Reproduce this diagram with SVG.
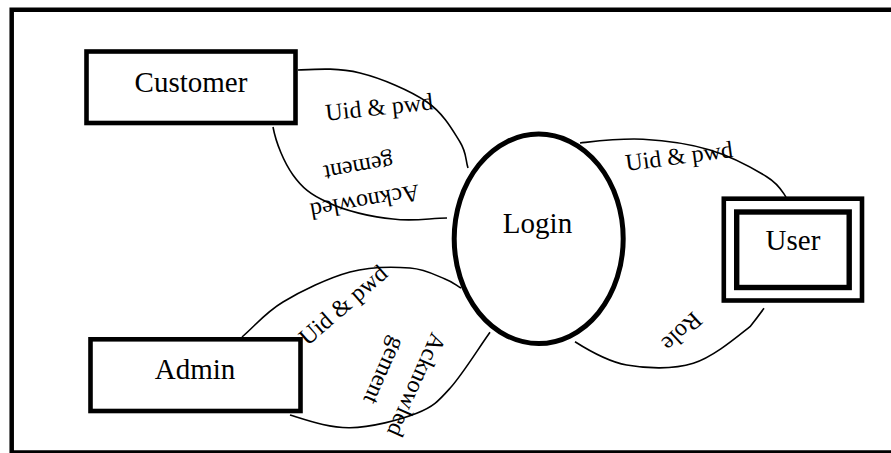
<svg xmlns="http://www.w3.org/2000/svg" width="891" height="453" viewBox="0 0 891 453">
  <style>
    .box { fill: #fff; stroke: #000; stroke-width: 4.6; }
    .proc { fill: #fff; stroke: #000; stroke-width: 5; }
    .flow { fill: none; stroke: #000; stroke-width: 1.6; }
    .name { font-family: "Liberation Serif", "Times New Roman", serif; font-size: 29px; fill: #000; text-anchor: middle; }
    .lbl { font-family: "Liberation Serif", "Times New Roman", serif; font-size: 24px; fill: #000; text-anchor: middle; }
  </style>
  <rect x="0" y="0" width="891" height="453" fill="#fff"/>
  <g id="frame">
    <path d="M891 9.7 H11.7 V452.5 H891" fill="none" stroke="#000" stroke-width="4.5"/>
  </g>

  <g id="connectors">
    <!-- Customer <-> Login -->
    <path class="flow" d="M298,70 C318.7,69 338.5,67.7 360,73 C381.5,78.3 410.3,90.5 427,102 C443.7,113.5 453.2,131 460,142 C466.8,153 465.3,159.3 468,168"/>
    <path class="flow" d="M273,127 C276,143 284,162.5 293,175 C302,187.5 310.3,194.7 327,202 C343.7,210.5 373,217.5 393,219 C413,221.7 429,218.3 447,218"/>
    <!-- Admin <-> Login -->
    <path class="flow" d="M242,337 C256,325 265,312.8 283,302 C301,291.2 328.8,277.7 350,272 C371.2,266.3 394.2,266.8 410,268 C425.8,269.2 436.5,275.7 445,279 C453.5,282.3 455.7,285 461,288"/>
    <path class="flow" d="M290,415 C310,421.2 328.9,428 350,427.7 C371.1,427.4 400,419.9 416.7,413.3 C433.4,406.7 437.8,401.8 450,388.3 C462.2,374.8 476.7,351 490,332.3"/>
    <!-- Login <-> User -->
    <path class="flow" d="M580,143 C601,140.7 621.3,138.1 643,139.3 C664.7,140.5 689.4,143.8 710,150 C730.6,156.2 754,168.9 766.7,176.7 C779.4,184.5 782,191.4 786,197"/>
    <path class="flow" d="M575,341.7 C587,349.3 607,361.4 626.7,365 C646.4,368.6 672.7,369.7 693.3,363.3 C713.9,356.9 738.2,335.9 750,326.7 C755,320.5 759.5,314.5 764,308.3"/>

    <!-- labels -->
    <text class="lbl" transform="translate(380,115) rotate(-6)">Uid &amp; pwd</text>
    <g transform="translate(365,202) rotate(170)">
      <text class="lbl" x="0" y="8">Acknowled</text>
      <text class="lbl" x="0" y="43">gement</text>
    </g>
    <text class="lbl" transform="translate(343,305) rotate(-41)" y="8">Uid &amp; pwd</text>
    <g transform="translate(416.7,385) rotate(114)">
      <text class="lbl" x="0" y="8">Acknowled</text>
      <text class="lbl" x="0" y="43">gement</text>
    </g>
    <text class="lbl" transform="translate(680,164) rotate(-7.5)">Uid &amp; pwd</text>
    <text class="lbl" transform="translate(682,332) rotate(137)" y="8">Role</text>
  </g>

  <g id="node-customer">
    <rect class="box" x="86.5" y="51.5" width="209" height="71.5"/>
    <text class="name" x="191" y="92">Customer</text>
  </g>

  <g id="node-login">
    <ellipse class="proc" cx="538.7" cy="238.8" rx="84.5" ry="104.7"/>
    <text class="name" x="537.5" y="233">Login</text>
  </g>

  <g id="node-user">
    <rect class="box" x="723.8" y="198.7" width="138.2" height="101.8" stroke-width="4.2"/>
    <rect class="box" x="736.7" y="212" width="112.5" height="75.5" style="stroke-width:5.4"/>
    <text class="name" x="793" y="250">User</text>
  </g>

  <g id="node-admin">
    <rect class="box" x="90.5" y="339.3" width="210" height="71.7"/>
    <text class="name" x="195" y="378.5">Admin</text>
  </g>
</svg>
